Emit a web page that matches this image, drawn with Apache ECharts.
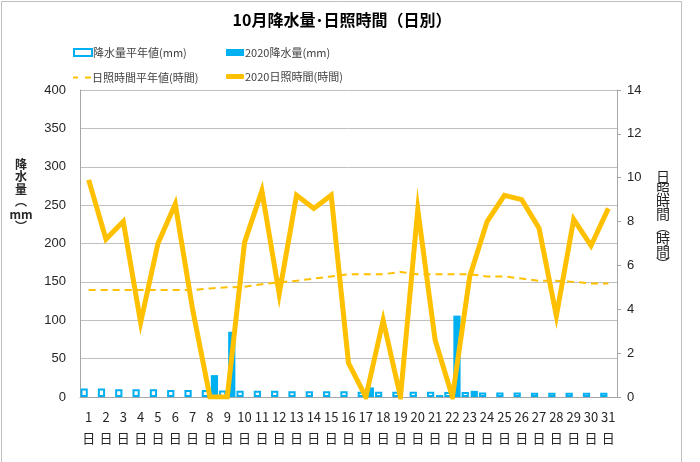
<!DOCTYPE html>
<html><head><meta charset="utf-8">
<script src="https://cdn.jsdelivr.net/npm/echarts@6/dist/echarts.min.js"></script>
<style>html,body{margin:0;padding:0;background:#fff}#c{width:700px;height:462px}</style>
</head><body><div id="c"></div>
<script>
var days = ['1','2','3','4','5','6','7','8','9','10','11','12','13','14','15','16','17','18','19','20','21','22','23','24','25','26','27','28','29','30','31'];
var rainAvg = [11,11,10,10,10,9,9,9,8.5,8,8,8,7.5,7.5,7.5,7.5,7,7,7,7,7,6.5,6.5,6,6,6,5.5,5.5,5.5,5.5,5.5];
var rain2020 = [0,0,0,0,0,0,0,28.5,85,0,0,0,0,0,0,0,12.5,0,0,0,2.5,106,8,0,0,0,0,0,0,0,0];
var sunAvg = [4.88,4.88,4.88,4.88,4.88,4.88,4.88,4.95,5.0,5.03,5.14,5.23,5.3,5.4,5.5,5.6,5.6,5.6,5.7,5.6,5.6,5.6,5.6,5.5,5.5,5.4,5.3,5.3,5.25,5.18,5.18];
var sun2020 = [9.9,7.2,8.0,3.4,7.0,8.8,4.0,0,0,7.05,9.4,4.7,9.2,8.6,9.2,1.55,0,3.5,0,8.55,2.6,0,5.5,8.0,9.2,9.0,7.7,3.7,8.1,6.9,8.6];
var leftTicks = [0,400,50];
var rightTicks = [0,14,2];

var blue = '#00B0F0', gold = '#FFC000', grey = '#bfbfbf';
var jp = '"Noto Sans CJK JP", sans-serif';
var num = '"Liberation Sans", sans-serif';
var chart = echarts.init(document.getElementById('c'));
function lg(name, left, top, w, h, icon) {
  var d = icon ? {name:name, icon:icon} : name;
  return {data:[d], left:left, top:top, itemWidth:w, itemHeight:h, itemGap:0,
    textStyle:{fontFamily:jp, fontSize:11, color:'#404040', padding:[0,0,0,-4]}, selectedMode:false};
}
chart.setOption({
  animation:false,
  legend:[
    lg('降水量平年値(mm)', 68, 42, 18, 7, 'rect'),
    lg('2020降水量(mm)', 221, 42, 18, 7, 'rect'),
    lg('日照時間平年値(時間)', 68, 67, 18, 2, 'path://M0,0h5v2h-5z M12,0h6v2h-6z'),
    lg('2020日照時間(時間)', 221, 66, 18, 5, 'roundRect')
  ],
  grid:{left:80, right:83, top:90, bottom:65, containLabel:false},
  xAxis:{type:'category', data:days,
    axisLine:{lineStyle:{color:'#a6a6a6'}}, axisTick:{show:false},
    axisLabel:{formatter:function(v){return v+'\n日';}, interval:0, color:'#262626', fontFamily:jp, fontSize:13, lineHeight:21, margin:10}
  },
  yAxis:[
    {type:'value', min:leftTicks[0], max:leftTicks[1], interval:leftTicks[2],
      axisLine:{show:true, lineStyle:{color:'#a6a6a6'}}, axisTick:{show:false},
      splitLine:{lineStyle:{color:grey, width:1}},
      axisLabel:{color:'#262626', fontFamily:num, fontSize:13, margin:14}},
    {type:'value', min:rightTicks[0], max:rightTicks[1], interval:rightTicks[2],
      axisLine:{show:true, lineStyle:{color:'#a6a6a6'}}, axisTick:{show:true, length:4, lineStyle:{color:'#a6a6a6'}},
      splitLine:{show:false},
      axisLabel:{color:'#262626', fontFamily:num, fontSize:13, margin:10}}
  ],
  series:[
    {name:'降水量平年値(mm)', type:'bar', data:rainAvg, barCategoryGap:'6%', barGap:'25%',
      itemStyle:{color:'#fff', borderColor:blue, borderWidth:2}},
    {name:'2020降水量(mm)', type:'bar', data:rain2020,
      itemStyle:{color:blue}},
    {name:'日照時間平年値(時間)', type:'line', yAxisIndex:1, data:sunAvg, symbol:'none',
      itemStyle:{color:gold}, lineStyle:{color:gold, width:2, type:[7,5]}},
    {name:'2020日照時間(時間)', type:'line', yAxisIndex:1, data:sun2020, symbol:'none',
      itemStyle:{color:gold}, lineStyle:{color:gold, width:5, join:'miter'}}
  ],
  graphic:[
    {type:'rect', shape:{x:1.5, y:1.5, width:680, height:520}, style:{fill:'none', stroke:'#bfbfbf', lineWidth:1}, silent:true},
    {type:'text', x:342, y:20, style:{text:'10月降水量･日照時間（日別）', font:'bold 16px '+jp, fill:'#000', textAlign:'center', textVerticalAlign:'middle'}},
    {type:'text', x:21, y:158, style:{text:'降\n水\n量\n︵\nmm\n︶', font:'bold 12px '+jp, fill:'#262626', textAlign:'center', lineHeight:12.5}},
    {type:'text', x:663, y:170, style:{text:'日\n照\n時\n間\n︵\n時\n間\n︶', font:'14px '+jp, fill:'#262626', textAlign:'center', lineHeight:12.5}}
  ]
});
</script></body></html>
